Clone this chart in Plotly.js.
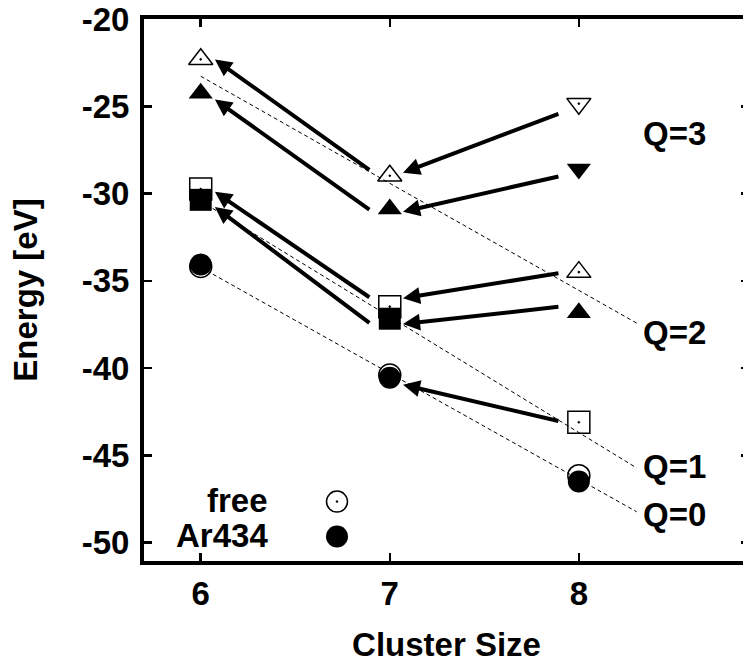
<!DOCTYPE html>
<html>
<head>
<meta charset="utf-8">
<script src="https://cdn.plot.ly/plotly-3.0.1.min.js"></script>
<style>
html, body { margin: 0; padding: 0; overflow: hidden; background: #fff; }
#chart { width: 760px; height: 663px; }
</style>
</head>
<body>
<div id="chart"></div>
<script>
// ---- data ----
const freeQ0X = [6, 7, 8];
const freeQ0Y = [-34.18, -40.40, -46.16];
const arQ0X = [6, 7, 8];
const arQ0Y = [-34.06, -40.55, -46.50];

const freeQ1X = [6, 7, 8];
const freeQ1Y = [-29.74, -36.48, -43.10];
const arQ1X = [6, 7];
const arQ1Y = [-30.36, -37.17];

const freeQ2X = [6, 7, 8];
const freeQ2Y = [-22.31, -28.98, -34.50];
const arQ2X = [6, 7, 8];
const arQ2Y = [-24.25, -30.89, -36.83];

const freeQ3X = [8];
const freeQ3Y = [-24.85];
const arQ3X = [8];
const arQ3Y = [-28.60];

// dashed guide lines
const fitQ2X = [6.0, 8.307];
const fitQ2Y = [-23.28, -37.43];
const fitQ1X = [6.0, 8.306];
const fitQ1Y = [-30.43, -45.72];
const fitQ0X = [6.0, 8.306];
const fitQ0Y = [-34.23, -48.23];

// arrows (tail -> head)
const arrowFromX = [6.9, 6.9, 6.9, 6.9, 7.9, 7.9, 7.9, 7.9, 7.9];
const arrowFromY = [-28.70, -30.98, -36.00, -37.47, -25.40, -29.00, -34.55, -36.48, -43.05];
const arrowToX = [6.075, 6.075, 6.075, 6.075, 7.07, 7.07, 7.07, 7.07, 7.07];
const arrowToY = [-22.32, -24.61, -29.90, -30.77, -28.81, -31.04, -36.00, -37.47, -40.95];

// charge labels
const qLabels = ['Q=3', 'Q=2', 'Q=1', 'Q=0'];
const qLabelX = [8.33, 8.33, 8.33, 8.33];
const qLabelY = [-26.54, -37.98, -45.65, -48.40];

const xTicks = [6, 7, 8];
const yTicks = [-50, -45, -40, -35, -30, -25, -20];
const legendNames = ['free', 'Ar434'];

// ---- drawing ----
const FONT = 'Liberation Sans, Arial, Helvetica, sans-serif';
const fs = 33;

function dashed(x, y) {
  return { x: x, y: y, type: 'scatter', mode: 'lines', showlegend: false, hoverinfo: 'skip',
    line: { color: '#000', width: 1, dash: '4px,3px' } };
}
function openPts(x, y, sym, size) {
  return { x: x, y: y, type: 'scatter', mode: 'markers', showlegend: false,
    marker: { symbol: sym, size: size, color: '#000', line: { color: '#000', width: 1.5 } } };
}
function fillPts(x, y, sym, size) {
  return { x: x, y: y, type: 'scatter', mode: 'markers', showlegend: false,
    marker: { symbol: sym, size: size, color: '#000', line: { color: '#000', width: 0 } } };
}

const traces = [
  dashed(fitQ2X, fitQ2Y), dashed(fitQ1X, fitQ1Y), dashed(fitQ0X, fitQ0Y),
  openPts(freeQ0X, freeQ0Y, 'circle-open-dot', 22),
  openPts(freeQ1X, freeQ1Y, 'square-open-dot', 22),
  openPts(freeQ2X, freeQ2Y, 'triangle-up-open-dot', 21),
  openPts(freeQ3X, freeQ3Y, 'triangle-down-open-dot', 21),
  fillPts(arQ0X, arQ0Y, 'circle', 22),
  fillPts(arQ1X, arQ1Y, 'square', 22),
  fillPts(arQ2X, arQ2Y, 'triangle-up', 21),
  fillPts(arQ3X, arQ3Y, 'triangle-down', 21)
];

const annotations = [];
for (let i = 0; i < arrowFromX.length; i++) {
  annotations.push({
    x: arrowToX[i], y: arrowToY[i], xref: 'x', yref: 'y',
    ax: arrowFromX[i], ay: arrowFromY[i], axref: 'x', ayref: 'y',
    showarrow: true, arrowhead: 2, arrowsize: 0.85, arrowwidth: 4, arrowcolor: '#000',
    text: '', standoff: 0, startstandoff: 0
  });
}
for (let i = 0; i < qLabels.length; i++) {
  annotations.push({
    x: qLabelX[i], y: qLabelY[i], xref: 'x', yref: 'y', xanchor: 'left', yanchor: 'middle',
    text: '<b>' + qLabels[i] + '</b>', showarrow: false,
    font: { family: FONT, size: fs, color: '#000' }
  });
}
// key (gnuplot style: text then symbol)
const keyTextY = [0.1115, 0.0470];
for (let i = 0; i < legendNames.length; i++) {
  annotations.push({
    x: 0.2083, y: keyTextY[i], xref: 'paper', yref: 'paper', xanchor: 'right', yanchor: 'middle',
    text: '<b>' + legendNames[i] + '</b>', showarrow: false,
    font: { family: FONT, size: fs, color: '#000' }
  });
}

const shapes = [
  { type: 'circle', xref: 'paper', yref: 'paper', xsizemode: 'pixel', ysizemode: 'pixel',
    xanchor: 0.3190, yanchor: 0.1096, x0: -10.5, x1: 10.5, y0: -10.5, y1: 10.5,
    line: { color: '#000', width: 1.5 }, fillcolor: 'rgba(0,0,0,0)' },
  { type: 'circle', xref: 'paper', yref: 'paper', xsizemode: 'pixel', ysizemode: 'pixel',
    xanchor: 0.3190, yanchor: 0.1096, x0: -1, x1: 1, y0: -1, y1: 1,
    line: { color: '#000', width: 0.5 }, fillcolor: '#000' },
  { type: 'circle', xref: 'paper', yref: 'paper', xsizemode: 'pixel', ysizemode: 'pixel',
    xanchor: 0.3190, yanchor: 0.0451, x0: -11, x1: 11, y0: -11, y1: 11,
    line: { color: '#000', width: 0 }, fillcolor: '#000' }
];

const layout = {
  width: 760, height: 663,
  margin: { l: 144, r: 11, t: 18.7, b: 101.5, pad: 0 },
  paper_bgcolor: '#fff', plot_bgcolor: '#fff',
  showlegend: false,
  font: { family: FONT, size: fs, color: '#000' },
  xaxis: {
    range: [5.7, 8.9], tickvals: xTicks, ticktext: xTicks.map(v => '<b>' + v + '</b>'),
    ticks: 'inside', ticklen: 8, tickwidth: 2.5, tickcolor: '#000',
    showline: true, linewidth: 4, linecolor: '#000', mirror: 'ticks',
    showgrid: false, zeroline: false, ticklabelstandoff: 0,
    tickfont: { family: FONT, size: fs, color: '#000' },
    title: { text: '<b>Cluster Size</b>', font: { family: FONT, size: fs, color: '#000' }, standoff: 32 }
  },
  yaxis: {
    range: [-51.05, -20], tickvals: yTicks, ticktext: yTicks.map(v => '<b>' + v + '</b>'),
    ticks: 'inside', ticklen: 8, tickwidth: 2.5, tickcolor: '#000',
    showline: true, linewidth: 4, linecolor: '#000', mirror: 'ticks',
    showgrid: false, zeroline: false, ticklabelstandoff: 4,
    tickfont: { family: FONT, size: fs, color: '#000' },
    title: { text: '<b>Energy [eV]</b>', font: { family: FONT, size: fs, color: '#000' }, standoff: 35 }
  },
  annotations: annotations,
  shapes: shapes
};

Plotly.newPlot('chart', traces, layout, { displayModeBar: false, staticPlot: true });
</script>
</body>
</html>
